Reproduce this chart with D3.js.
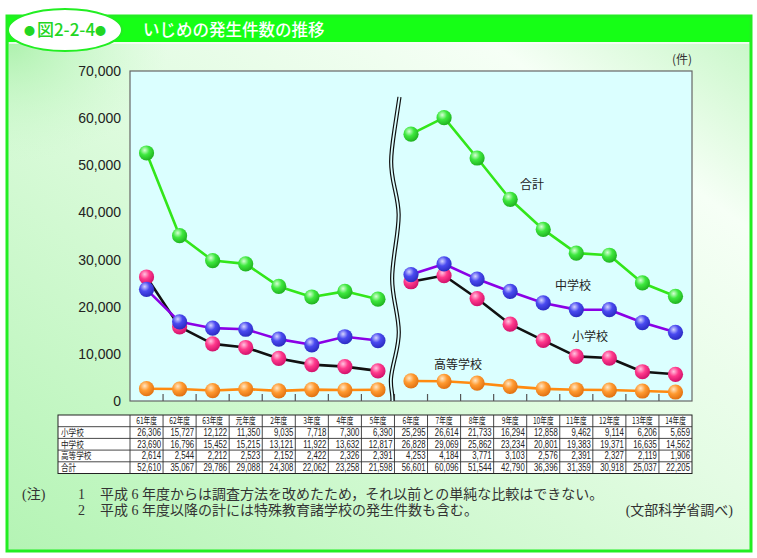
<!DOCTYPE html>
<html><head><meta charset="utf-8">
<script src="https://cdn.jsdelivr.net/npm/d3@7"></script>
<style>body{margin:0;background:#fff}</style>
</head><body>
<svg id="c" width="757" height="558"></svg>
<script>
const categories = ["61年度","62年度","63年度","元年度","2年度","3年度","4年度","5年度","6年度","7年度","8年度","9年度","10年度","11年度","12年度","13年度","14年度"];
const elementary = [26306,15727,12122,11350,9035,7718,7300,6390,25295,26614,21733,16294,12858,9462,9114,6206,5659];
const juniorHigh = [23690,16796,15452,15215,13121,11922,13632,12817,26828,29069,25862,23234,20801,19383,19371,16635,14562];
const highSchool = [2614,2544,2212,2523,2152,2422,2326,2391,4253,4184,3771,3103,2576,2391,2327,2119,1906];
const total = [52610,35067,29786,29088,24308,22062,23258,21598,56601,60096,51544,42790,36396,31359,30918,25037,22205];
const rowLabels = ["小学校","中学校","高等学校","合計"];
const yTicks = [0,10000,20000,30000,40000,50000,60000,70000];
const breakIndex = 8;

const svg = d3.select("#c");
const defs = svg.append("defs");

// background gradient
const bg = defs.append("linearGradient").attr("id","bg").attr("x1","0").attr("y1","1").attr("x2","1").attr("y2","0");
bg.append("stop").attr("offset","0%").attr("stop-color","#b4f4b4");
bg.append("stop").attr("offset","55%").attr("stop-color","#e4fce4");
bg.append("stop").attr("offset","80%").attr("stop-color","#f6fff6");
bg.append("stop").attr("offset","100%").attr("stop-color","#c4f6c4");

const bg2 = defs.append("radialGradient").attr("id","tl").attr("cx","0").attr("cy","0").attr("r","1");
bg2.append("stop").attr("offset","0%").attr("stop-color","#a8f0a8").attr("stop-opacity",0.9);
bg2.append("stop").attr("offset","100%").attr("stop-color","#c8f8c8").attr("stop-opacity",0);

const series = [
  {key:"highSchool", values:highSchool, line:"#ff8a10", base:"#ff9a30", hi:"#ffe6c4", dark:"#e07010"},
  {key:"elementary", values:elementary, line:"#111111", base:"#ff3a8c", hi:"#ffc4e0", dark:"#d0106a"},
  {key:"juniorHigh", values:juniorHigh, line:"#8a00e6", base:"#4a4af0", hi:"#d4d4ff", dark:"#2a2ac0"},
  {key:"total", values:total, line:"#33e61a", base:"#3ee83e", hi:"#d6ffd6", dark:"#1fb01f"}
];
series.forEach(s=>{
  const g = defs.append("radialGradient").attr("id","sph-"+s.key).attr("cx","38%").attr("cy","32%").attr("r","70%");
  g.append("stop").attr("offset","0%").attr("stop-color",s.hi);
  g.append("stop").attr("offset","45%").attr("stop-color",s.base);
  g.append("stop").attr("offset","100%").attr("stop-color",s.dark);
});

// frame
svg.append("rect").attr("x",7).attr("y",16).attr("width",744).attr("height",535).attr("fill","url(#bg)");
svg.append("rect").attr("x",8).attr("y",42).attr("width",160).attr("height",120).attr("fill","url(#tl)");
svg.append("rect").attr("x",7).attr("y",16).attr("width",744).attr("height",26).attr("fill","#16ff16");
svg.append("rect").attr("x",7).attr("y",16).attr("width",744).attr("height",535).attr("fill","none").attr("stroke","#22ee22").attr("stroke-width",3);
svg.append("line").attr("x1",9).attr("x2",749).attr("y1",43).attr("y2",43).attr("stroke","#fafffa").attr("stroke-width",1.5);

// title oval
svg.append("ellipse").attr("cx",65).attr("cy",30).attr("rx",57).attr("ry",21).attr("fill","#fff").attr("stroke","#22ee22").attr("stroke-width",2);
const ot = svg.append("text").attr("x",65).attr("y",36).attr("text-anchor","middle")
  .attr("font-family","'Noto Sans CJK JP',sans-serif").attr("font-size",17).attr("font-weight",500).attr("fill","#22d622");
ot.append("tspan").attr("font-size",11).attr("dy",-1).text("●");
ot.append("tspan").attr("dx",2).attr("dy",1).text("図2-2-4");
ot.append("tspan").attr("font-size",11).attr("dy",-1).text("●");
svg.append("text").attr("x",143).attr("y",36)
  .attr("font-family","'Noto Sans CJK JP',sans-serif").attr("font-size",16.5).attr("font-weight",500).attr("fill","#fff")
  .text("いじめの発生件数の推移");

// scales
const plot = {left:130, right:692, top:71, bottom:401};
const x = d3.scaleBand().domain(categories).range([plot.left, plot.right]).padding(0);
const y = d3.scaleLinear().domain([0,70000]).range([plot.bottom, plot.top]);
const cx = c => x(c) + x.bandwidth()/2;

svg.append("rect").attr("x",plot.left).attr("y",plot.top).attr("width",plot.right-plot.left).attr("height",plot.bottom-plot.top)
  .attr("fill","#dbffff").attr("stroke","#666").attr("stroke-width",1.2);

// y axis labels
const yAxis = d3.axisLeft(y).tickValues(yTicks).tickSize(0).tickPadding(9).tickFormat(d3.format(","));
const ya = svg.append("g").attr("transform",`translate(${plot.left},0)`).call(yAxis);
ya.select(".domain").remove();
ya.selectAll("text").attr("font-family","'Liberation Sans',Arial,sans-serif").attr("font-size",14).attr("fill","#222");

// x ticks (inside, at band boundaries)
const xAxis = d3.axisBottom(x).tickSize(-7).tickFormat("");
const xa = svg.append("g").attr("transform",`translate(${x.bandwidth()/2},${plot.bottom})`).call(xAxis);
xa.select(".domain").remove();
xa.selectAll("line").attr("stroke","#555").attr("stroke-width",1.2);
xa.selectAll(".tick").filter((d,i)=>i===categories.length-1).remove();

// unit
svg.append("text").attr("x",692).attr("y",64).attr("text-anchor","end")
  .attr("font-family","'Noto Sans CJK JP',sans-serif").attr("font-size",12).attr("fill","#333").text("(件)");

// break mark
const bx = x(categories[breakIndex]) - 1;
const wave = [[6,97],[1,130],[-4,163],[1,188],[7,213],[2,246],[-3,280],[2,306],[7,333],[2,356],[-4,380],[-1,394],[-1,401]];
const wl = d3.line().x(d=>bx+d[0]).y(d=>d[1]).curve(d3.curveBasis);
svg.append("path").attr("d",wl(wave)).attr("fill","none").attr("stroke","#111").attr("stroke-width",4.2);
svg.append("path").attr("d",wl(wave)).attr("fill","none").attr("stroke","#dbffff").attr("stroke-width",1.8);

// lines
const line = d3.line().x((d)=>cx(d.c)).y(d=>y(d.v));
series.forEach(s=>{
  const pts = s.values.map((v,i)=>({c:categories[i], v}));
  [pts.slice(0,breakIndex), pts.slice(breakIndex)].forEach(seg=>{
    svg.append("path").attr("d",line(seg)).attr("fill","none").attr("stroke",s.line).attr("stroke-width",2.6).attr("stroke-linejoin","round");
  });
});
// spheres
series.forEach(s=>{
  svg.append("g").selectAll("circle").data(s.values).join("circle")
    .attr("cx",(d,i)=>cx(categories[i])).attr("cy",d=>y(d)).attr("r",7.6)
    .attr("fill",`url(#sph-${s.key})`);
});

// series labels
const lab = [["合計",532,189],["中学校",573,290],["小学校",590,341],["高等学校",458,369]];
svg.append("g").selectAll("text").data(lab).join("text")
  .attr("x",d=>d[1]).attr("y",d=>d[2]).attr("text-anchor","middle")
  .attr("font-family","'Noto Sans CJK JP',sans-serif").attr("font-size",12).attr("fill","#222").text(d=>d[0]);

// table
const tTop = 415, rh = 11.7, tLeft = 58;
const tbl = svg.append("g");
tbl.append("rect").attr("x",tLeft).attr("y",tTop).attr("width",plot.right-tLeft).attr("height",rh*5).attr("fill","#fff").attr("stroke","#222").attr("stroke-width",1);
for(let r=1;r<5;r++) tbl.append("line").attr("x1",tLeft).attr("x2",plot.right).attr("y1",tTop+r*rh).attr("y2",tTop+r*rh).attr("stroke","#333").attr("stroke-width",0.9);
categories.forEach(c=>tbl.append("line").attr("x1",x(c)).attr("x2",x(c)).attr("y1",tTop).attr("y2",tTop+rh*5).attr("stroke","#333").attr("stroke-width",0.9));
categories.forEach(c=>{
  tbl.append("text").attr("transform",`translate(${cx(c)},${tTop+rh-2.6}) scale(0.7,1)`).attr("text-anchor","middle")
    .attr("font-family","'Noto Sans CJK JP',sans-serif").attr("font-size",9.5).attr("fill","#222").text(c);
});
const rows = [elementary, juniorHigh, highSchool, total];
const fmt = d3.format(",");
rows.forEach((vals,r)=>{
  const yy = tTop + (r+2)*rh - 2.4;
  tbl.append("text").attr("transform",`translate(${tLeft+3},${yy}) scale(0.95,1.15)`)
    .attr("font-family","'Noto Sans CJK JP',sans-serif").attr("font-size",8).attr("fill","#222").text(rowLabels[r]);
  vals.forEach((v,i)=>{
    tbl.append("text").attr("transform",`translate(${x(categories[i])+x.bandwidth()-2},${yy}) scale(0.74,1)`).attr("text-anchor","end")
      .attr("font-family","'Liberation Sans',Arial,sans-serif").attr("font-size",10.5).attr("fill","#222").text(fmt(v));
  });
});

// notes
const nf = "'Liberation Serif','Noto Sans CJK JP',serif";
const notes = svg.append("g").attr("font-family",nf).attr("font-size",14).attr("fill","#333");
notes.append("text").attr("x",22).attr("y",499).text("(注)");
notes.append("text").attr("x",78).attr("y",499).text("1");
notes.append("text").attr("x",100).attr("y",499).text("平成 6 年度からは調査方法を改めたため，それ以前との単純な比較はできない。");
notes.append("text").attr("x",78).attr("y",515).text("2");
notes.append("text").attr("x",100).attr("y",515).text("平成 6 年度以降の計には特殊教育諸学校の発生件数も含む。");
notes.append("text").attr("x",733).attr("y",515).attr("text-anchor","end").text("(文部科学省調べ)");
</script>
</body></html>
